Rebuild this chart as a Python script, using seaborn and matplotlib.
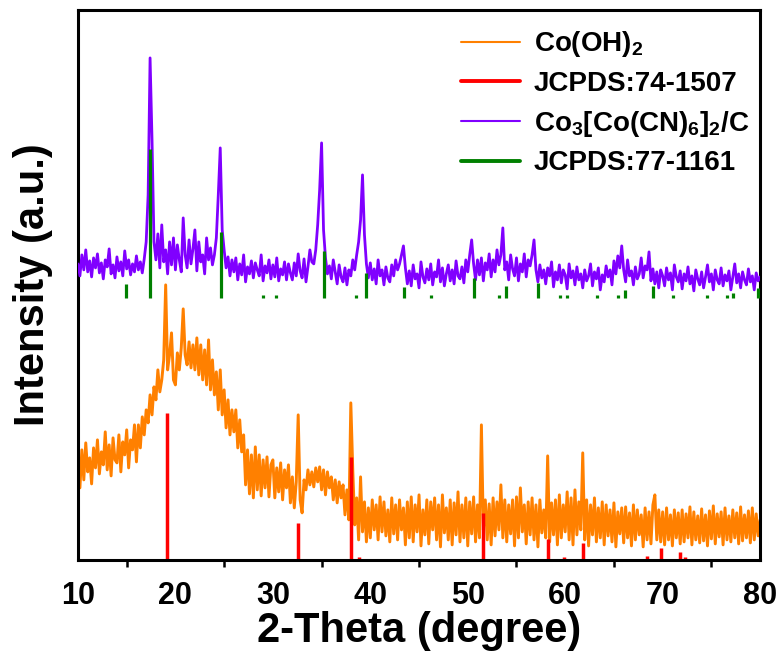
import numpy as np
import pandas as pd
import matplotlib
matplotlib.use("Agg")
import matplotlib.pyplot as plt
import seaborn as sns
from matplotlib.lines import Line2D
from matplotlib.ticker import MultipleLocator

# ---------------- data ----------------
theta = np.round(np.arange(100, 801, 2) / 10.0, 1)   # 10.0 ... 80.0 step 0.2

co_oh2 = [
    95, 72, 110, 80, 117, 88, 102, 76, 112, 92,
    120, 86, 108, 95, 128, 90, 115, 84, 122, 100,
    97, 125, 88, 118, 105, 130, 92, 120, 110, 135,
    98, 135, 112, 143, 125, 150, 137, 165, 145, 173,
    160, 190, 168, 180, 200, 275, 190, 205, 227, 180,
    175, 207, 190, 212, 251, 205, 195, 218, 192, 215,
    190, 222, 185, 215, 180, 210, 175, 220, 170, 200,
    165, 188, 150, 190, 145, 170, 132, 160, 125, 150,
    128, 150, 112, 140, 108, 125, 75, 110, 66, 105,
    62, 113, 70, 105, 64, 100, 72, 103, 63, 95,
    100, 62, 92, 68, 97, 60, 90, 72, 95, 57,
    83, 52, 78, 145, 60, 47, 80, 70, 90, 75,
    88, 73, 92, 78, 93, 70, 90, 65, 88, 72,
    83, 60, 80, 57, 78, 62, 75, 45, 70, 40,
    157, 90, 35, 62, 20, 83, 28, 58, 18, 52,
    22, 60, 30, 55, 20, 63, 28, 58, 24, 50,
    18, 62, 26, 55, 20, 60, 30, 52, 15, 58,
    22, 63, 18, 55, 28, 65, 14, 50, 25, 60,
    16, 58, 30, 62, 20, 55, 13, 65, 27, 52,
    20, 60, 15, 57, 25, 68, 18, 55, 22, 62,
    14, 58, 26, 63, 18, 55, 22, 135, 30, 60,
    20, 56, 15, 62, 24, 58, 30, 75, 22, 60,
    18, 55, 26, 60, 14, 63, 22, 72, 28, 55,
    16, 58, 25, 62, 20, 55, 13, 60, 27, 50,
    22, 104, 18, 57, 25, 60, 15, 65, 22, 55,
    28, 68, 20, 62, 15, 70, 25, 58, 30, 107,
    20, 60, 14, 55, 25, 62, 18, 52, 22, 58,
    15, 55, 24, 50, 18, 57, 13, 48, 26, 52,
    17, 53, 22, 47, 14, 55, 20, 50, 25, 45,
    13, 52, 20, 48, 16, 55, 65, 20, 50, 18,
    48, 15, 52, 20, 45, 14, 50, 22, 47, 16,
    50, 18, 46, 22, 53, 15, 48, 20, 44, 17,
    51, 19, 45, 14, 49, 21, 54, 16, 46, 23,
    48, 15, 52, 20, 44, 18, 50, 22, 47, 16,
    53, 19, 45, 22, 49, 17, 52, 20, 46, 24,
    40,
]

co_pba = [
    296, 284, 305, 290, 310, 288, 299, 283, 302, 292,
    306, 287, 297, 281, 300, 293, 311, 286, 295, 282,
    303, 289, 298, 284, 309, 291, 300, 285, 296, 288,
    304, 290, 298, 287, 301, 318, 365, 502, 420, 318,
    300, 326, 292, 335, 298, 310, 286, 318, 295, 322,
    290, 315, 300, 288, 342, 305, 292, 320, 296, 311,
    330, 289, 318, 298, 305, 286, 322, 300, 312, 295,
    305, 322, 365, 412, 330, 310, 292, 303, 284, 300,
    288, 302, 280, 296, 285, 305, 278, 293, 286, 299,
    282, 297, 290, 284, 305, 279, 294, 287, 300, 281,
    295, 283, 302, 279, 291, 285, 298, 280, 296, 287,
    280, 297, 284, 306, 289, 282, 301, 278, 293, 310,
    298, 296, 310, 335, 370, 417, 330, 302, 286, 294,
    281, 300, 288, 276, 295, 283, 278, 292, 275, 290,
    284, 300, 290, 305, 318, 340, 385, 325, 296, 282,
    297, 280, 291, 276, 300, 284, 290, 275, 293, 282,
    278, 295, 284, 300, 290, 296, 305, 314, 292, 276,
    289, 274, 295, 281, 286, 272, 298, 283, 277, 291,
    280, 296, 275, 288, 283, 300, 278, 292, 274, 286,
    295, 279, 290, 276, 299, 284, 281, 293, 277, 300,
    288, 305, 320, 296, 280, 300, 285, 302, 279, 297,
    290, 306, 283, 300, 288, 310, 295, 305, 332, 290,
    298, 280, 305, 291, 284, 302, 279, 296, 288, 306,
    283, 300, 294, 305, 320, 290, 278, 295, 282, 290,
    276, 292, 284, 298, 273, 288, 280, 295, 277, 290,
    285, 271, 296, 282, 289, 275, 293, 280, 286, 272,
    290, 279, 284, 296, 274, 288, 281, 292, 270, 285,
    278, 294, 283, 290, 275, 299, 286, 304, 292, 314,
    290, 278, 300, 284, 289, 275, 293, 281, 286, 302,
    282, 294, 290, 308, 279, 291, 276, 288, 272, 290,
    284, 274, 292, 280, 287, 270, 295, 283, 278, 289,
    271, 286, 279, 293, 276, 284, 269, 290, 281, 275,
    288, 272, 283, 295, 278, 286, 270, 290, 280, 276,
    292, 274, 285, 279, 289, 270, 283, 296, 277, 286,
    272, 288, 280, 275, 291, 278, 284, 270, 287, 279,
    283,
]

# JCPDS 74-1507 (Co(OH)2) reference lines
ref_a_pos = [19.1, 32.6, 38.05, 38.8, 51.6, 58.2, 59.9, 61.8, 68.4, 69.8, 71.8, 72.3]
ref_a_int = [147, 37, 103, 3, 47, 21, 3, 17, 4, 12, 8, 3]

# JCPDS 77-1161 (Co3[Co(CN)6]2) reference lines
ref_b_pos = [14.9, 17.4, 24.7, 29.0, 30.3, 35.2, 38.5, 39.6, 43.5, 46.2, 50.6, 53.2, 53.9,
             57.2, 59.5, 60.2, 63.3, 65.4, 66.1, 69.0, 71.1, 74.6, 76.6, 77.2, 79.8]
ref_b_int = [14, 149, 66, 3, 3, 47, 3, 25, 11, 3, 20, 3, 12,
             15, 3, 3, 3, 3, 8, 12, 3, 3, 3, 5, 10]

labels = ["Co(OH)$_2$", "JCPDS:74-1507", "Co$_3$[Co(CN)$_6$]$_2$/C", "JCPDS:77-1161"]
x_ticks = [10, 20, 30, 40, 50, 60, 70, 80]

# ---------------- style ----------------
sns.set_style("ticks")
plt.rcParams["font.family"] = ["Liberation Sans", "DejaVu Sans"]
plt.rcParams["font.weight"] = "bold"
plt.rcParams["mathtext.default"] = "regular"
plt.rcParams["text.color"] = "black"
plt.rcParams["axes.labelcolor"] = "black"
plt.rcParams["xtick.color"] = "black"
plt.rcParams["axes.edgecolor"] = "black"

C_ORANGE = "#FF8000"
C_RED = "#FF0000"
C_PURPLE = "#8000FF"
C_GREEN = "#008000"
STACK_B = 262   # vertical offset of the upper reference pattern

fig, ax = plt.subplots(figsize=(7.82, 6.61), dpi=100)
fig.subplots_adjust(left=0.0997, right=0.972, top=0.985, bottom=0.153)

df = pd.DataFrame({"theta": theta, "cooh": co_oh2, "pba": co_pba})

sns.lineplot(data=df, x="theta", y="cooh", ax=ax, color=C_ORANGE, lw=2.1,
             estimator=None, sort=False, zorder=1)
ax.vlines(ref_a_pos, 0, ref_a_int, color=C_RED, lw=2.5, zorder=2)
sns.lineplot(data=df, x="theta", y="pba", ax=ax, color=C_PURPLE, lw=2.0,
             estimator=None, sort=False, zorder=3)
ax.vlines(ref_b_pos, STACK_B, np.array(ref_b_int) + STACK_B, color=C_GREEN, lw=2.3, zorder=4)

ax.set_xlim(10, 80)
ax.set_ylim(0, 550)
ax.set_xticks(x_ticks)
ax.xaxis.set_minor_locator(MultipleLocator(5))
ax.set_yticks([])
ax.tick_params(axis="x", which="major", length=0, labelsize=22, pad=15, colors="black")
ax.tick_params(axis="x", which="minor", length=5, width=1.8, direction="out", colors="black")
for lab in ax.get_xticklabels():
    lab.set_fontweight("bold")
for sp in ax.spines.values():
    sp.set_visible(True)
    sp.set_linewidth(2.2)
    sp.set_color("black")

ax.set_xlabel("2-Theta (degree)", fontsize=30, fontweight="bold", labelpad=0, color="black")
ax.set_ylabel("Intensity (a.u.)", fontsize=30, fontweight="bold", labelpad=18, color="black")

handles = [Line2D([], [], color=C_ORANGE, lw=1.5),
           Line2D([], [], color=C_RED, lw=2.8),
           Line2D([], [], color=C_PURPLE, lw=1.5),
           Line2D([], [], color=C_GREEN, lw=2.8)]
leg = ax.legend(handles, labels, loc="upper right", frameon=False,
                prop={"size": 20, "weight": "bold"}, handlelength=2.1,
                handletextpad=0.5, labelspacing=0.42, borderaxespad=0.0,
                bbox_to_anchor=(1.0, 0.985))
for t in leg.get_texts():
    t.set_color("black")

fig.savefig("out.png", dpi=100)
